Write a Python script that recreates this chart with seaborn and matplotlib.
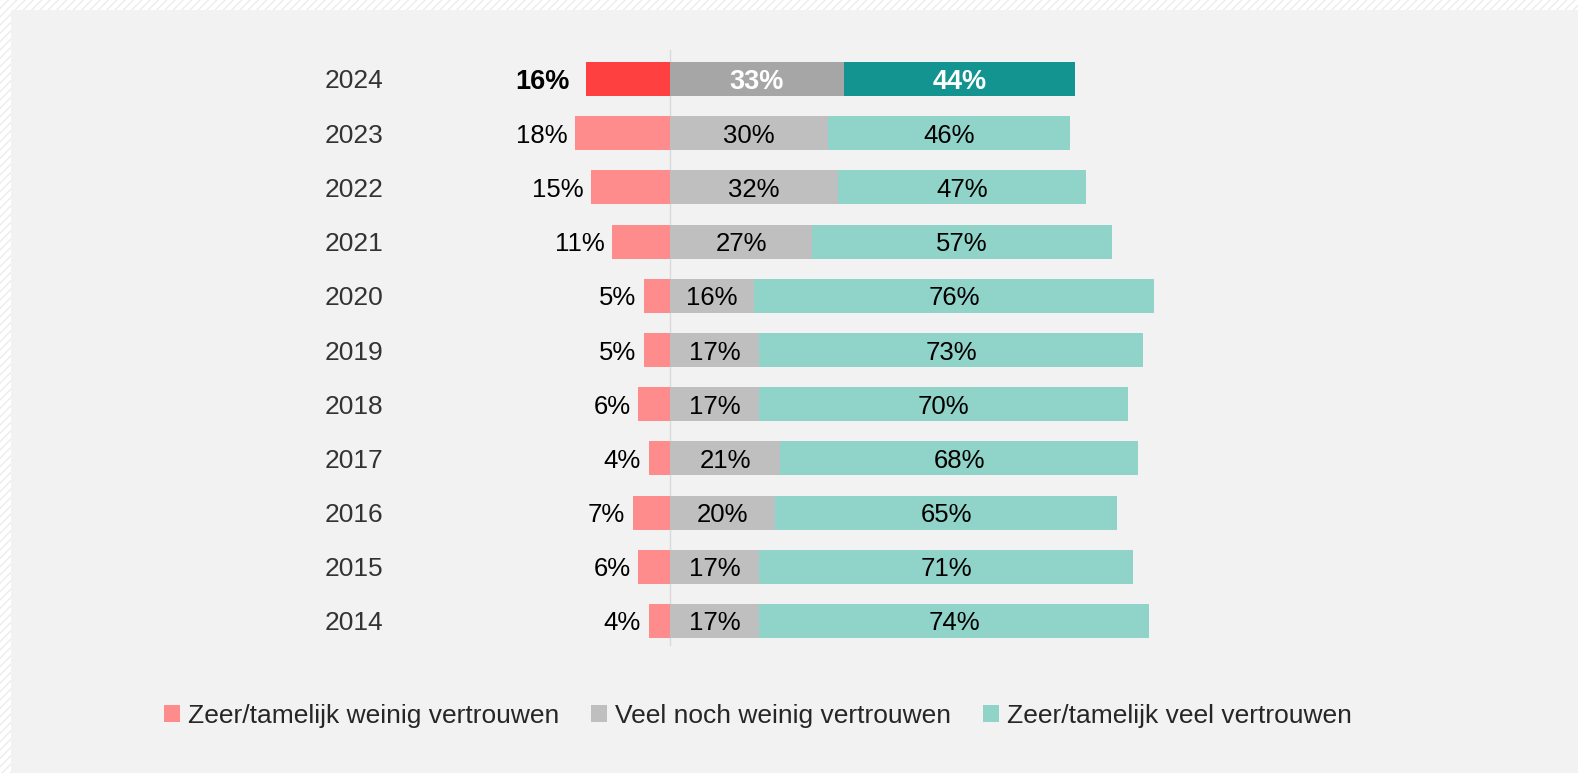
import numpy as np
import pandas as pd
import seaborn as sns
import matplotlib.pyplot as plt
from matplotlib.patches import Rectangle, Patch

## DATA
years = ["2024", "2023", "2022", "2021", "2020", "2019", "2018", "2017", "2016", "2015", "2014"]
weinig = [16, 18, 15, 11, 5, 5, 6, 4, 7, 6, 4]
neutraal = [33, 30, 32, 27, 16, 17, 17, 21, 20, 17, 17]
veel = [44, 46, 47, 57, 76, 73, 70, 68, 65, 71, 74]
legend_labels = ["Zeer/tamelijk weinig vertrouwen", "Veel noch weinig vertrouwen",
                 "Zeer/tamelijk veel vertrouwen"]

## KLEUREN
red_hi, gray_hi, teal_hi = "#ff4040", "#a6a6a6", "#149490"
red_lo, gray_lo, teal_lo = "#ff8c8c", "#bfbfbf", "#90d3c9"

df = pd.DataFrame({"year": years, "weinig": weinig, "neutraal": neutraal, "veel": veel})
df["neg"] = -df["weinig"]
df["pos_total"] = df["neutraal"] + df["veel"]

sns.set_style("white")
plt.rcParams["font.family"] = ["Liberation Sans", "DejaVu Sans"]

W, H = 1578, 773
fig = plt.figure(figsize=(W / 100, H / 100), dpi=100)
fig.patch.set_facecolor("white")

# achtergrond: gestreepte rand + grijs paneel
fig.patches.append(Rectangle((0, 0), 1, 1, transform=fig.transFigure, facecolor="white",
                             edgecolor="#ececec", hatch="////", linewidth=0, zorder=-3))
fig.patches.append(Rectangle((11 / W, 0), 1, 1 - 10 / H, transform=fig.transFigure,
                             facecolor="#f2f2f2", edgecolor="none", zorder=-2))

ax = fig.add_axes([0, 0, 1, 1])
ax.patch.set_alpha(0)

px = 5.26      # pixels per procent
x0 = 670       # nul-lijn in pixels
row = 54.2     # rijafstand in pixels
y_first = 79

bw = 0.63
first = lambda hi, lo: [hi] + [lo] * (len(years) - 1)

sns.barplot(data=df, x="pos_total", y="year", hue="year", palette=first(teal_hi, teal_lo),
            orient="h", width=bw, legend=False, ax=ax, saturation=1, linewidth=0)
sns.barplot(data=df, x="neutraal", y="year", hue="year", palette=first(gray_hi, gray_lo),
            orient="h", width=bw, legend=False, ax=ax, saturation=1, linewidth=0)
sns.barplot(data=df, x="neg", y="year", hue="year", palette=first(red_hi, red_lo),
            orient="h", width=bw, legend=False, ax=ax, saturation=1, linewidth=0)

ax.set_xlim(-x0 / px, (W - x0) / px)
ax.set_ylim((H - y_first) / row, -y_first / row)

# nul-lijn
ax.plot([0, 0], [(50 - y_first) / row, (645 - y_first) / row], color="#d9d9d9", lw=1, zorder=0)

for i, r in df.iterrows():
    hi = i == 0
    wt = "bold" if hi else "normal"
    fs = 19.5 if hi else 18.5
    # jaartal
    ax.text((383 - x0) / px, i, r["year"], ha="right", va="center_baseline", fontsize=19,
            color="#333333")
    # negatief
    ax.text(-r["weinig"] - (3 if hi else 1.5), i, f"{r['weinig']}%", ha="right",
            va="center_baseline", fontsize=fs, color="black", fontweight=wt)
    ax.text(r["neutraal"] / 2, i, f"{r['neutraal']}%", ha="center", va="center_baseline",
            fontsize=fs, color="white" if hi else "black", fontweight=wt)
    ax.text(r["neutraal"] + r["veel"] / 2, i, f"{r['veel']}%", ha="center",
            va="center_baseline", fontsize=fs, color="white" if hi else "black", fontweight=wt)

ax.set_axis_off()

handles = [Patch(facecolor=c, edgecolor="none") for c in (red_lo, gray_lo, teal_lo)]
fig.legend(handles, legend_labels, loc="center", bbox_to_anchor=(758 / W, 1 - 716 / H),
           ncol=3, frameon=False, fontsize=19, handlelength=0.62, handleheight=0.62,
           handletextpad=0.3, columnspacing=1.2, labelcolor="#262626")

fig.savefig("out.png", dpi=100)
